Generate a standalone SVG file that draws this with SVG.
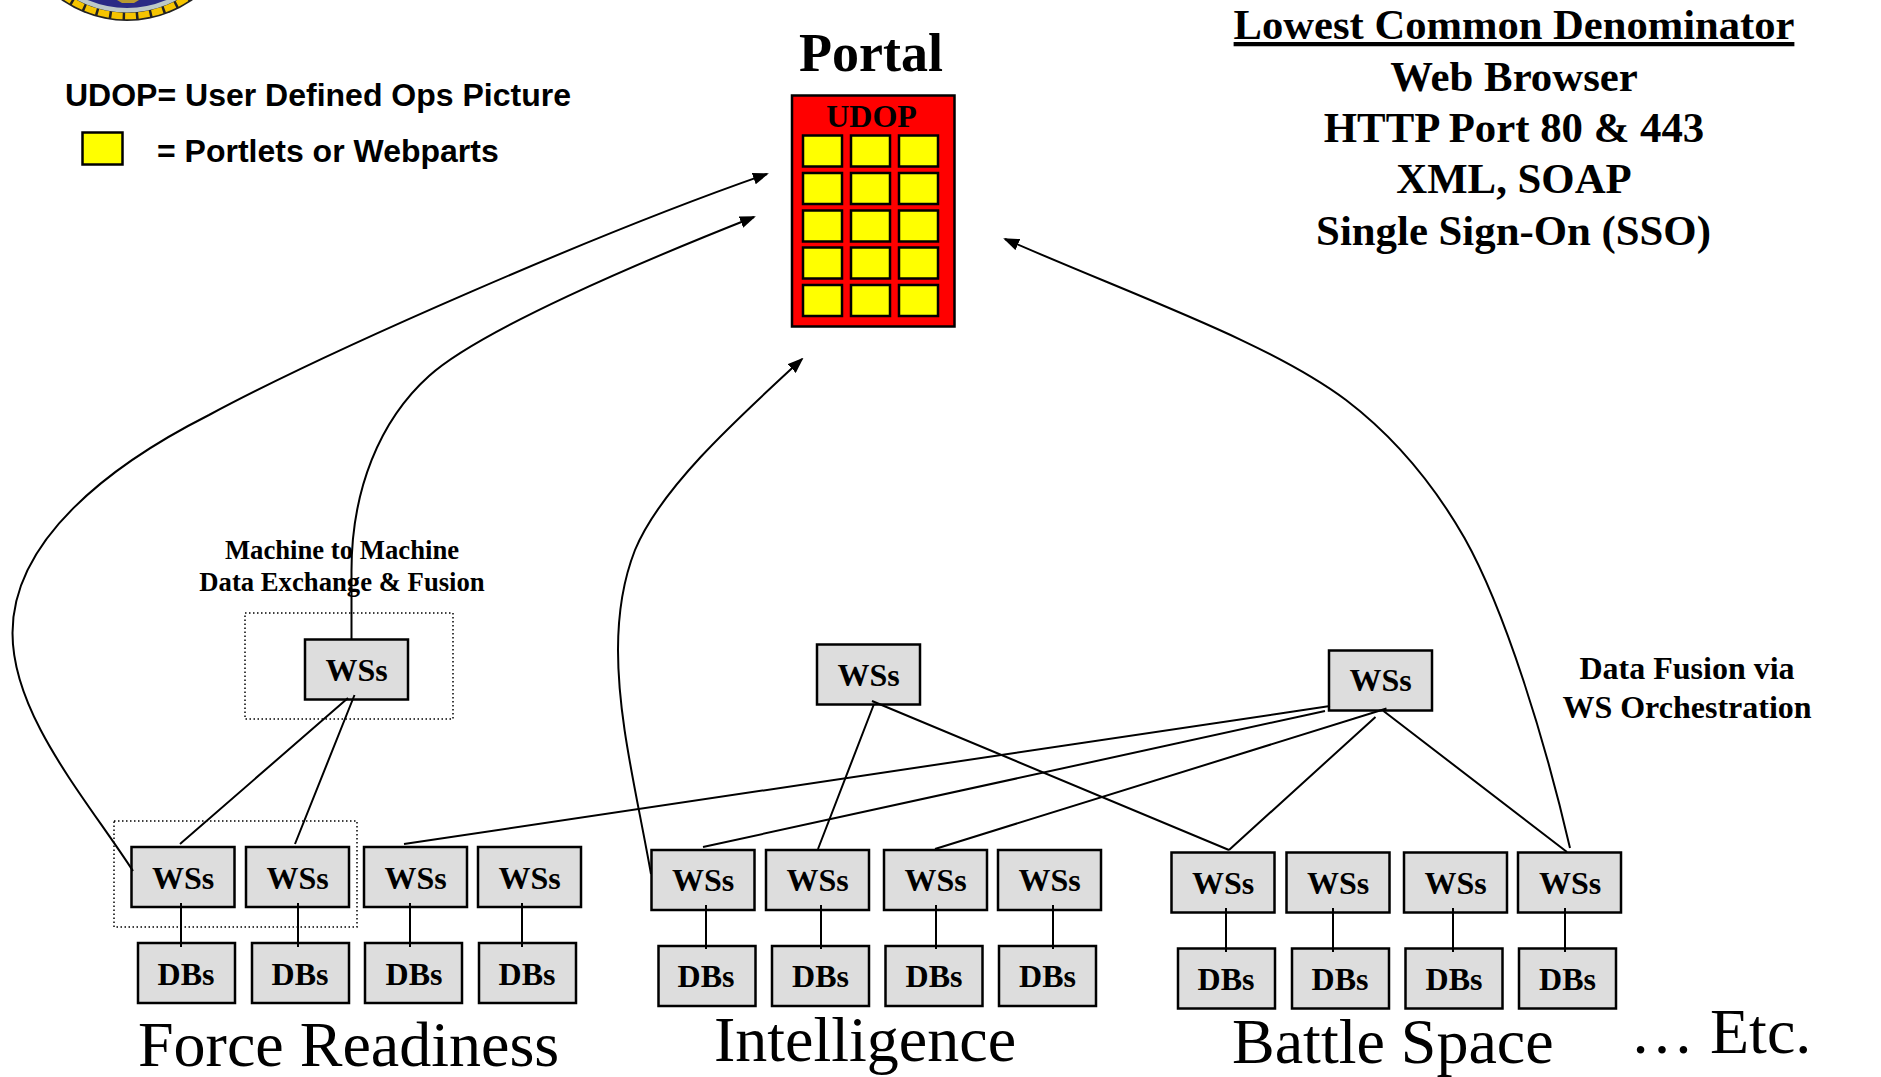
<svg xmlns="http://www.w3.org/2000/svg" width="1881" height="1077" viewBox="0 0 1881 1077">
<style>
text{fill:#000}
.b{font-family:"Liberation Serif","Times New Roman",serif;font-weight:700;text-anchor:middle}
.r{font-family:"Liberation Serif","Times New Roman",serif;font-weight:400}
.a{font-family:"Liberation Sans",Arial,sans-serif;font-weight:700;font-size:32px}
.n{fill:#ddd;stroke:#000;stroke-width:2.5}
.t{font-size:32px}
.y{fill:#ff0;stroke:#000;stroke-width:2.5}
.d{fill:none;stroke:#000;stroke-width:1.5;stroke-dasharray:1.5 2.5}
.h{font-size:42.8px}
.m{font-size:26.7px}
.o{font-size:32px}
.l{font-size:64px}
#connectors path{fill:none;stroke:#000;stroke-width:2}
</style>
<defs>
<marker id="ah" markerUnits="userSpaceOnUse" viewBox="0 0 16 12" refX="14" refY="6" markerWidth="16" markerHeight="12" orient="auto"><path d="M0 0L16 6L0 12Z" fill="#000"/></marker>
<rect id="ws" class="n" width="103" height="60"/>
<rect id="db" class="n" width="97" height="60"/>
</defs>
<rect width="1881" height="1077" fill="#fff"/>

<g id="seal">
<circle cx="127" cy="-93" r="114" fill="#222"/>
<circle cx="127" cy="-93" r="109" fill="none" stroke="#f5c400" stroke-width="6.500" stroke-dasharray="11 2.5"/>
<circle cx="127" cy="-93" r="105.500" fill="#bcc8c8"/>
<circle cx="127" cy="-93" r="101" fill="#2a2a85"/>
<path d="M117 0H139L134 3H122Z" fill="#b89a30"/>
</g>

<g id="legend">
<text class="a" x="65" y="106">UDOP= User Defined Ops Picture</text>
<rect class="y" x="82.500" y="132.500" width="40" height="32"/>
<text class="a" x="157" y="162">= Portlets or Webparts</text>
</g>

<g id="portal">
<text class="b" x="871" y="71" font-size="54">Portal</text>
<rect x="792" y="95.500" width="162.500" height="231" fill="#f00" stroke="#000" stroke-width="2.500"/>
<text class="b t" x="871.500" y="127">UDOP</text>
<rect class="y" x="803" y="135.500" width="39" height="31"/><rect class="y" x="851" y="135.500" width="39" height="31"/><rect class="y" x="899" y="135.500" width="39" height="31"/>
<rect class="y" x="803" y="173" width="39" height="31"/><rect class="y" x="851" y="173" width="39" height="31"/><rect class="y" x="899" y="173" width="39" height="31"/>
<rect class="y" x="803" y="210.500" width="39" height="31"/><rect class="y" x="851" y="210.500" width="39" height="31"/><rect class="y" x="899" y="210.500" width="39" height="31"/>
<rect class="y" x="803" y="247.500" width="39" height="31"/><rect class="y" x="851" y="247.500" width="39" height="31"/><rect class="y" x="899" y="247.500" width="39" height="31"/>
<rect class="y" x="803" y="285" width="39" height="31"/><rect class="y" x="851" y="285" width="39" height="31"/><rect class="y" x="899" y="285" width="39" height="31"/>
</g>

<g id="lcd">
<text class="b h" x="1514" y="39" font-size="42.6" style="font-size:42.6px" text-decoration="underline">Lowest Common Denominator</text>
<text class="b h" x="1514" y="91">Web Browser</text>
<text class="b h" x="1514" y="142">HTTP Port 80 &amp; 443</text>
<text class="b h" x="1514" y="193">XML, SOAP</text>
<text class="b h" x="1513.500" y="245">Single Sign-On (SSO)</text>
</g>

<g id="machine-note">
<text class="b m" x="342" y="559">Machine to Machine</text>
<text class="b m" x="342" y="591">Data Exchange &amp; Fusion</text>
<rect class="d" x="245" y="613" width="208" height="106"/>
</g>
<g id="fusion-note">
<text class="b o" x="1687" y="679">Data Fusion via</text>
<text class="b o" x="1687" y="718">WS Orchestration</text>
</g>
<rect id="group-fr" class="d" x="114" y="821" width="243" height="106"/>

<g id="ws-m2m"><use href="#ws" x="305" y="639.500"/><text class="b t" x="356.500" y="681">WSs</text></g>
<g id="ws-intel-top"><use href="#ws" x="817" y="644.500"/><text class="b t" x="868.500" y="686">WSs</text></g>
<g id="ws-battle-top"><use href="#ws" x="1329" y="650.500"/><text class="b t" x="1380.500" y="691">WSs</text></g>

<g id="ws-f1"><use href="#ws" x="131.500" y="847"/><text class="b t" x="183" y="889">WSs</text></g>
<g id="ws-f2"><use href="#ws" x="246" y="847"/><text class="b t" x="297.500" y="889">WSs</text></g>
<g id="ws-f3"><use href="#ws" x="364" y="847"/><text class="b t" x="415.500" y="889">WSs</text></g>
<g id="ws-f4"><use href="#ws" x="478" y="847"/><text class="b t" x="529.500" y="889">WSs</text></g>
<g id="db-f1"><use href="#db" x="138" y="943"/><text class="b t" x="186" y="985">DBs</text></g>
<g id="db-f2"><use href="#db" x="252" y="943"/><text class="b t" x="300" y="985">DBs</text></g>
<g id="db-f3"><use href="#db" x="365" y="943"/><text class="b t" x="414" y="985">DBs</text></g>
<g id="db-f4"><use href="#db" x="479" y="943"/><text class="b t" x="527" y="985">DBs</text></g>

<g id="ws-i1"><use href="#ws" x="651.500" y="850"/><text class="b t" x="703" y="891">WSs</text></g>
<g id="ws-i2"><use href="#ws" x="766" y="850"/><text class="b t" x="817.500" y="891">WSs</text></g>
<g id="ws-i3"><use href="#ws" x="884" y="850"/><text class="b t" x="935.500" y="891">WSs</text></g>
<g id="ws-i4"><use href="#ws" x="998" y="850"/><text class="b t" x="1049.500" y="891">WSs</text></g>
<g id="db-i1"><use href="#db" x="658.500" y="946"/><text class="b t" x="706" y="987">DBs</text></g>
<g id="db-i2"><use href="#db" x="772" y="946"/><text class="b t" x="820.500" y="987">DBs</text></g>
<g id="db-i3"><use href="#db" x="885.500" y="946"/><text class="b t" x="934" y="987">DBs</text></g>
<g id="db-i4"><use href="#db" x="999" y="946"/><text class="b t" x="1047.500" y="987">DBs</text></g>

<g id="ws-b1"><use href="#ws" x="1171.500" y="852.500"/><text class="b t" x="1223" y="894">WSs</text></g>
<g id="ws-b2"><use href="#ws" x="1286.500" y="852.500"/><text class="b t" x="1338" y="894">WSs</text></g>
<g id="ws-b3"><use href="#ws" x="1404" y="852.500"/><text class="b t" x="1455.500" y="894">WSs</text></g>
<g id="ws-b4"><use href="#ws" x="1518" y="852.500"/><text class="b t" x="1570" y="894">WSs</text></g>
<g id="db-b1"><use href="#db" x="1178" y="948.500"/><text class="b t" x="1226" y="990">DBs</text></g>
<g id="db-b2"><use href="#db" x="1292" y="948.500"/><text class="b t" x="1340" y="990">DBs</text></g>
<g id="db-b3"><use href="#db" x="1405.500" y="948.500"/><text class="b t" x="1454" y="990">DBs</text></g>
<g id="db-b4"><use href="#db" x="1519" y="948.500"/><text class="b t" x="1567.500" y="990">DBs</text></g>

<g id="captions">
<text class="r l" x="138" y="1066">Force Readiness</text>
<text class="r l" x="714" y="1061">Intelligence</text>
<text class="r l" x="1232" y="1063">Battle Space</text>
<text class="r l" x="1630" y="1053">… Etc.</text>
</g>

<g id="connectors">
<path marker-end="url(#ah)" d="M133 871C85 797 12.500 715 12.500 633C12.500 540 110 465 209 415C330 350 600 232 767 174"/>
<path marker-end="url(#ah)" d="M351.500 639V573C351 490 380 420 429 376C480 330 640 262 754 217"/>
<path marker-end="url(#ah)" d="M651 874C636 790 618 720 618 650C618 610 624 578 635 550C660 490 730 425 802 359"/>
<path marker-end="url(#ah)" d="M1570 848C1545 740 1505 610 1464.500 538C1430 478 1388 432 1346 400C1268 342 1140 298 1005 239"/>
<path d="M180 844L348 698M295 844L354.500 695"/>
<path d="M404 844L1330 706M703 847L1325 711M935 849L1386.500 708.500M1229 850L1375.500 717M1383.500 711L1567 852"/>
<path d="M872 701L1229 850M874 704L818 849"/>
<path d="M181 903V947M298 903V947M410 903V947M522 903V947"/>
<path d="M706 905V949M821 905V949M936 905V949M1053 905V949"/>
<path d="M1226 908V952M1333 908V952M1453 908V952M1565 908V952"/>
</g>
</svg>
